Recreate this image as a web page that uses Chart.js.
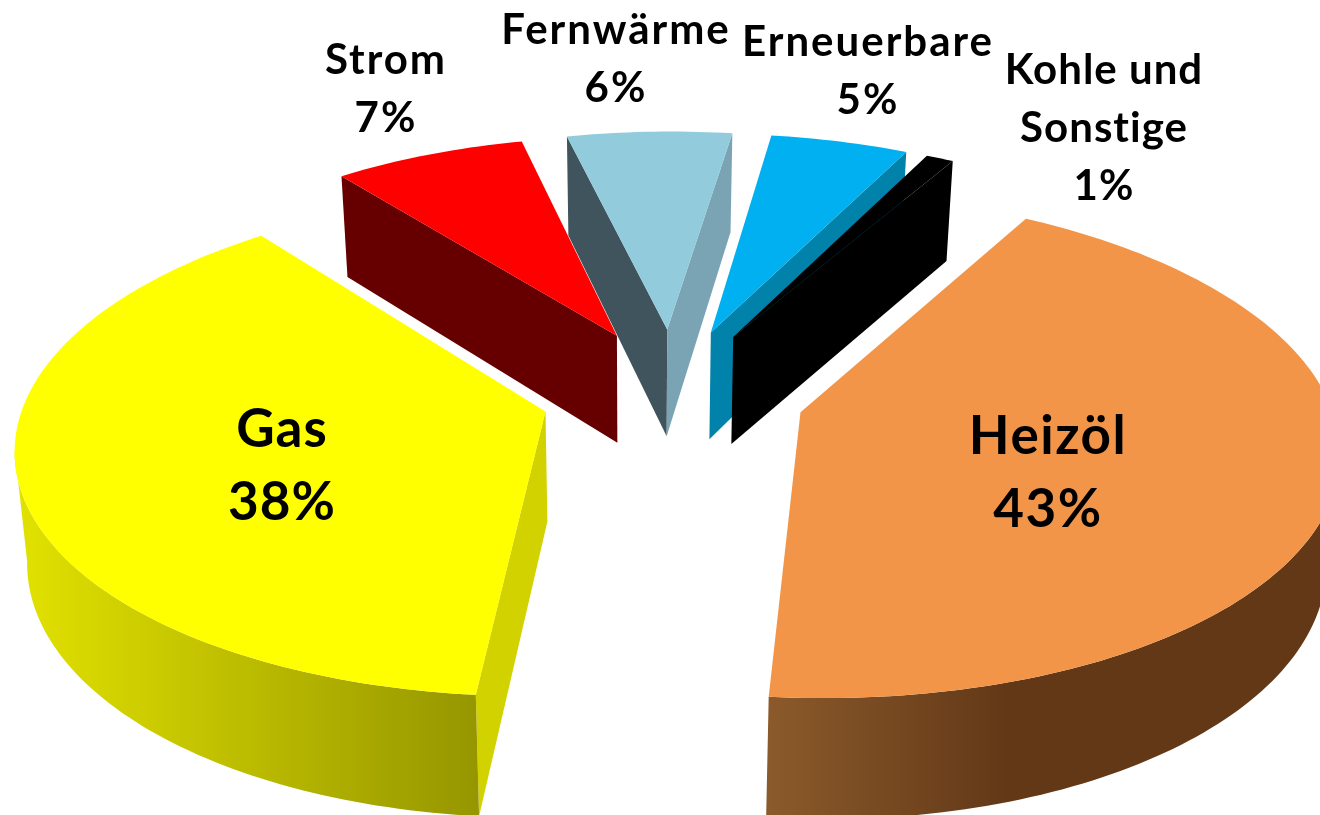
<!DOCTYPE html>
<html><head><meta charset="utf-8">
<style>html,body{margin:0;padding:0;background:#fff;overflow:hidden}canvas{display:block}</style>
<script src="https://cdn.jsdelivr.net/npm/chart.js@4"></script>
</head><body><canvas id="c" width="1320" height="815"></canvas>
<script>
const categories = ['Heizöl','Gas','Strom','Fernwärme','Erneuerbare','Kohle und Sonstige'];
const shares = [43,38,7,6,5,1];
const topColors = ['#F39548','#FFFF00','#FF0000','#92CBDC','#00B0F0','#000000'];
const startWallColors = ['#623817','#D2D200','#660000','#3F545C','#0082AB','#000000'];
const endWallColors = ['#623817','#D2D200','#660000','#7AA4B4','#0082AB','#000000'];
const outerStops = [
  [[0,'#8B5A2B'],[0.42,'#623817'],[1,'#623817']],
  [[0,'#E2E200'],[1,'#969600']],
  [[0,'#660000'],[1,'#660000']],
  [[0,'#3F545C'],[1,'#7AA4B4']],
  [[0,'#0082AB'],[1,'#0082AB']],
  [[0,'#000000'],[1,'#000000']]
];
const labelLines = [['Heizöl','43%'],['Gas','38%'],['Strom','7%'],['Fernwärme','6%'],['Erneuerbare','5%'],['Kohle und','Sonstige','1%']];
const labelX = [1048,282,386,616,868,1104];
const labelY = [437,430,60,30,42,70];
const labelStep = [73,73,58,58,58,58];
const labelFont = [53,53,42,42,42,42];
const labelSpacing = [1.5,1,2,2,2,1];
const explodeAcross = [0.25,0.25,0.25,0.25,0.25,0.25];
const explodeDepth = [0.25,0.25,0.27,0.27,0.27,0.27];
const radiusBy = [0.99,0.99,0.97,0.97,0.97,0.97];

const project = (X,Y) => {
  const w = 1 + 0.131*Y;
  return [(528*X + 66*Y + 673)/w, (-10*X - 193.9*Y + 393.6)/w];
};
const drop = ([x,y]) => [x + (640-x)*0.02, y + 99 + 0.04*(y-135)];

const pie3d = {
  id:'pie3d',
  beforeDatasetDraw(chart){
    const ctx = chart.ctx;
    const els = chart.getDatasetMeta(0).data.map((el,i)=>{
      const mid = (el.startAngle+el.endAngle)/2;
      const ox = Math.cos(mid)*explodeAcross[i], oy = -Math.sin(mid)*explodeDepth[i];
      const n = Math.max(4, Math.ceil((el.endAngle-el.startAngle)/0.02));
      const rim = [];
      for(let k=0;k<=n;k++){
        const a = el.startAngle + (el.endAngle-el.startAngle)*k/n;
        rim.push(project(ox+radiusBy[i]*Math.cos(a), oy-radiusBy[i]*Math.sin(a)));
      }
      return {i, apex:project(ox,oy), rim, depth:oy};
    }).sort((a,b)=>b.depth-a.depth);
    const poly = (pts,fill)=>{
      ctx.beginPath();
      pts.forEach((p,j)=> j?ctx.lineTo(p[0],p[1]):ctx.moveTo(p[0],p[1]));
      ctx.closePath();
      ctx.fillStyle = fill; ctx.fill();
    };
    // edges are walked clockwise on screen; a wall faces the viewer where its edge runs right to left
    const faces = (p,q)=> q[0] < p[0];
    for(const s of els){
      const {i,apex,rim} = s, last = rim[rim.length-1];
      if(faces(apex,rim[0])) poly([apex,rim[0],drop(rim[0]),drop(apex)], startWallColors[i]);
      if(faces(last,apex)) poly([last,apex,drop(apex),drop(last)], endWallColors[i]);
      const run = [];
      for(let k=0;k<rim.length-1;k++){
        if(faces(rim[k],rim[k+1])){ if(!run.length) run.push(rim[k]); run.push(rim[k+1]); }
      }
      if(run.length>1){
        const xs = run.map(p=>p[0]);
        const g = ctx.createLinearGradient(Math.min(...xs),0,Math.max(...xs),0);
        outerStops[i].forEach(([o,c])=>g.addColorStop(o,c));
        poly(run.concat(run.slice().reverse().map(drop)), g);
      }
      poly([apex,...rim], topColors[i]);
    }
    return false;
  },
  afterDraw(chart){
    const ctx = chart.ctx;
    ctx.save();
    ctx.fillStyle='#000'; ctx.textAlign='center'; ctx.textBaseline='middle';
    labelLines.forEach((lines,i)=>{
      ctx.font = `700 ${labelFont[i]}px Lato, Carlito, sans-serif`;
      ctx.letterSpacing = labelSpacing[i]+'px';
      lines.forEach((t,k)=>ctx.fillText(t,labelX[i],labelY[i]+k*labelStep[i]));
    });
    ctx.restore();
  }
};

new Chart(document.getElementById('c'),{
  type:'pie',
  data:{labels:categories,datasets:[{data:shares,backgroundColor:topColors,borderWidth:0}]},
  options:{responsive:false,animation:false,rotation:32.4,
    plugins:{legend:{display:false},tooltip:{enabled:false},title:{display:false}}},
  plugins:[pie3d]
});
</script></body></html>
